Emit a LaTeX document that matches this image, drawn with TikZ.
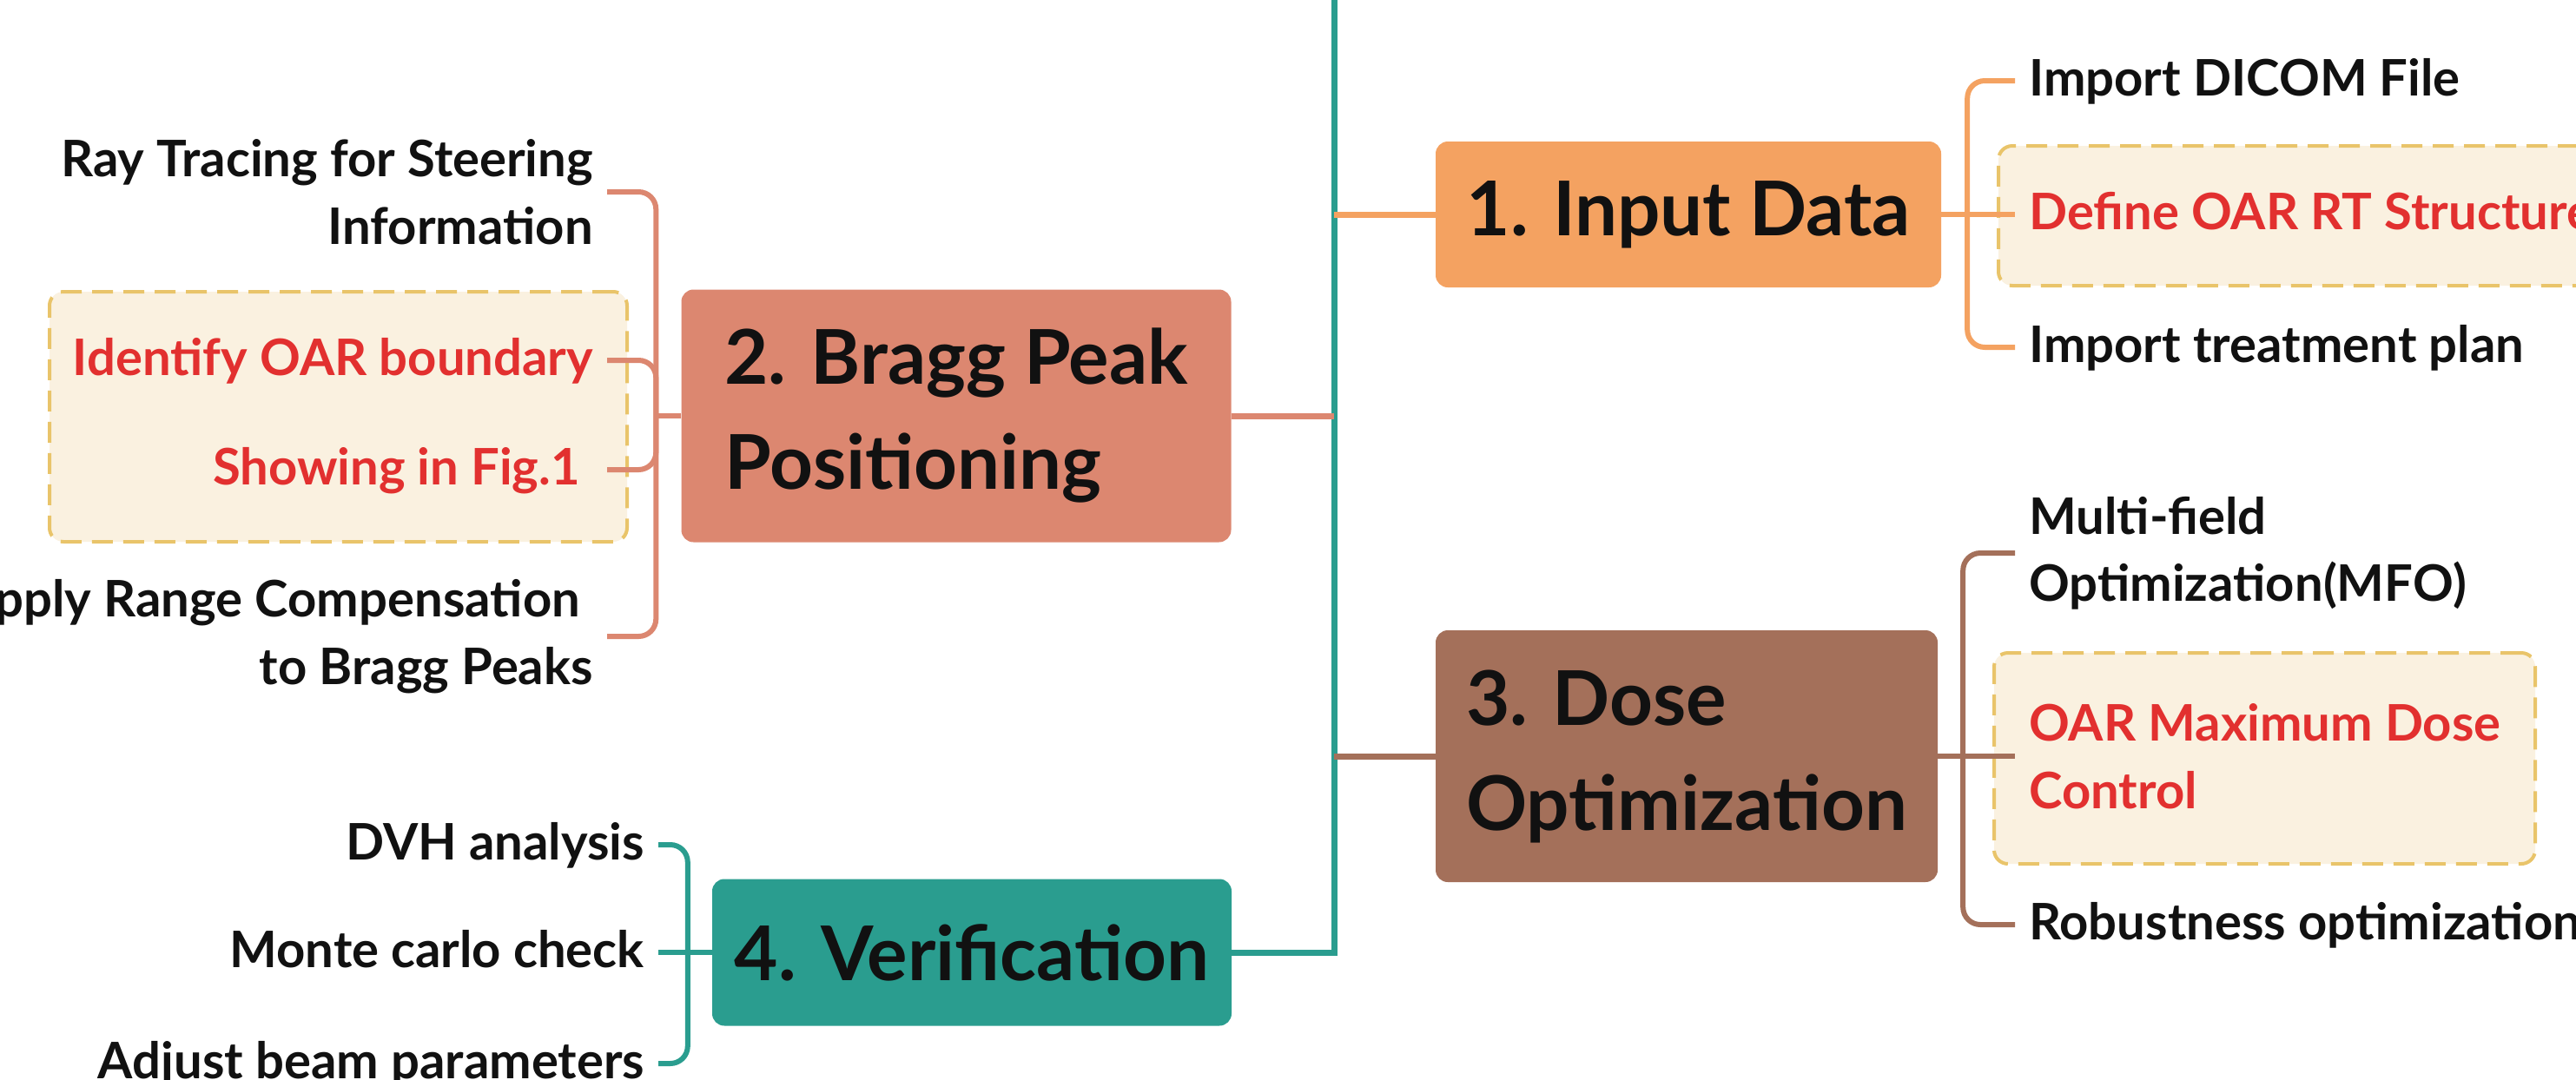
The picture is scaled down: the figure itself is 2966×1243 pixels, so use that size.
\documentclass[tikz,border=0pt]{standalone}
\usepackage{fontspec}
\setmainfont{Lato}
\usetikzlibrary{calc}
\definecolor{corange}{HTML}{F4A261}
\definecolor{csalmon}{HTML}{DC8770}
\definecolor{cbrown}{HTML}{A4705A}
\definecolor{cteal}{HTML}{2A9D8F}
\definecolor{cyel}{HTML}{E9C46A}
\definecolor{ccream}{HTML}{FAF1E0}
\definecolor{cred}{HTML}{E2302F}
\definecolor{ctext}{HTML}{111111}
\tikzset{
  mainbox/.style={rounded corners=14pt, inner sep=0pt, text=ctext,
    font=\fontsize{87}{121}\selectfont\bfseries},
  leaf/.style={inner xsep=16pt, inner ysep=0pt, text=ctext,
    font=\fontsize{58}{77.5}\selectfont\bfseries, text height=43pt, text depth=8pt},
  leafm/.style={inner xsep=16pt, inner ysep=0pt, text=ctext,
    font=\fontsize{58}{77.5}\selectfont\bfseries},
  redtxt/.style={text=cred},
  groupbox/.style={draw=cyel, fill=ccream, dash pattern=on 24pt off 12pt,
    line width=4pt, rounded corners=16pt, inner sep=0pt, anchor=north west},
  mainline/.style={line width=7pt},
  subline/.style={line width=6pt, rounded corners=20pt},
}
\begin{document}
\begin{tikzpicture}[x=1pt,y=-1pt]
\useasboundingbox (0,0) rectangle (2966,1243);
% dashed group boxes
\node[groupbox, minimum width=665pt, minimum height=288pt] (g2) at (55,334) {};
\node[groupbox, minimum width=720pt, minimum height=161pt] (g1) at (2299,166) {};
\node[groupbox, minimum width=623pt, minimum height=243pt] (g3) at (2294,750) {};
% main boxes
\node[mainbox, fill=corange, minimum width=582pt, minimum height=168pt] (b1) at (1944,247) {1. Input Data};
\node[mainbox, fill=csalmon, minimum width=633pt, minimum height=291pt, align=left] (b2) at (1101,479) {2. Bragg Peak\\Positioning};
\node[mainbox, fill=cbrown, minimum width=578pt, minimum height=290pt, align=left] (b3) at (1942,871) {3. Dose\\Optimization};
\node[mainbox, fill=cteal, minimum width=598pt, minimum height=169pt] (b4) at (1119,1097) {4. Verification};
% leaves of 1
\node[leaf, anchor=west] (dicom) at (2320,93) {Import DICOM File};
\node[leaf, redtxt, anchor=west] (define) at (2320,247) {Define OAR RT Structure};
\node[leaf, anchor=west] (treat) at (2320,400) {Import treatment plan};
% leaves of 2
\node[leafm, anchor=east, align=right] (ray) at (699,221) {Ray Tracing for Steering\\Information};
\node[leaf, redtxt, anchor=east] (ident) at (699,415) {Identify OAR boundary};
\node[leaf, redtxt, anchor=east] (show) at (699,541) {Showing in Fig.1\kern15pt};
\node[leafm, anchor=east, align=right] (apply) at (699,733) {Apply Range Compensation\kern15pt\\to Bragg Peaks};
% leaves of 3
\node[leafm, anchor=west, align=left] (multi) at (2320,637) {Multi-field\\Optimization(MFO)};
\node[leafm, redtxt, anchor=west, align=left] (oar) at (2320,871) {OAR Maximum Dose\\Control};
\node[leaf, anchor=west] (robust) at (2320,1065) {Robustness optimization};
% leaves of 4
\node[leaf, anchor=east] (dvh) at (758,973) {DVH analysis};
\node[leaf, anchor=east] (mc) at (758,1097) {Monte carlo check};
\node[leaf, anchor=east] (adj) at (758,1225) {Adjust beam parameters};
% trunk
\coordinate (top) at (1536,-10);
\draw[cteal, mainline] (top) |- (b4.east);
\draw[corange, mainline] (b1.west) -- (b1.west -| top);
\draw[csalmon, mainline] (b2.east) -- (b2.east -| top);
\draw[cbrown, mainline] (b3.west) -- (b3.west -| top);
% branch 1
\coordinate (s1) at ($(b1.east)+(30,0)$);
\draw[corange, subline] (dicom.west) -| (s1) |- (treat.west);
\draw[corange, subline] (b1.east) -- (define.west);
% branch 2
\coordinate (s2) at ($(b2.west)+(-29,0)$);
\draw[csalmon, subline] (ray.east) -| (s2) |- (apply.east);
\draw[csalmon, subline] (ident.east) -| (s2);
\draw[csalmon, subline] (show.east) -| (s2);
\draw[csalmon, subline] (b2.west) -- (s2);
% branch 3
\coordinate (s3) at ($(b3.east)+(29,0)$);
\draw[cbrown, subline] (multi.west) -| (s3) |- (robust.west);
\draw[cbrown, subline] (b3.east) -- (oar.west);
% branch 4
\coordinate (s4) at ($(b4.west)+(-28,0)$);
\draw[cteal, subline] (dvh.east) -| (s4) |- (adj.east);
\draw[cteal, subline] (b4.west) -- (mc.east);
\end{tikzpicture}
\end{document}
